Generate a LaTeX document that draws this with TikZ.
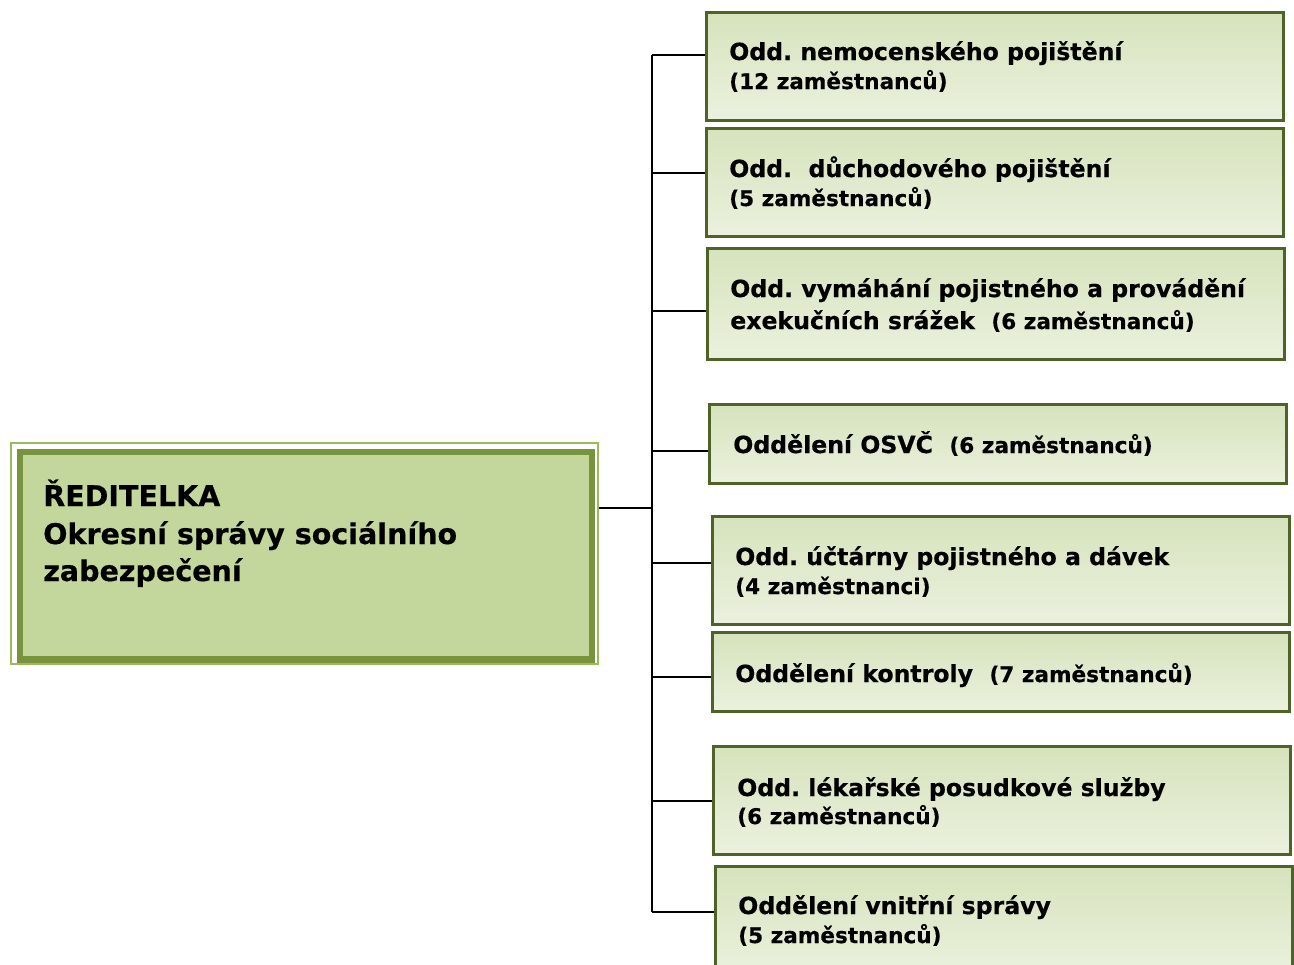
\documentclass[tikz,border=0pt]{standalone}
\usepackage{fontspec}
\setmainfont{DejaVu Sans}[BoldFeatures={FakeBold=0.5}]
\frenchspacing
\definecolor{topc}{HTML}{D6E3BC}
\definecolor{botc}{HTML}{EBF1DE}
\definecolor{bord}{HTML}{4F6228}
\definecolor{lfill}{HTML}{C3D69B}
\definecolor{lborder}{HTML}{77933C}
\definecolor{outerc}{HTML}{9BBB59}
\newcommand{\mainf}{\fontsize{17.7pt}{22pt}\selectfont\bfseries}
\newcommand{\subf}{\fontsize{16.2pt}{20pt}\selectfont\bfseries}
\newcommand{\bigf}{\fontsize{21.4pt}{26pt}\selectfont\bfseries}
\begin{document}
\begin{tikzpicture}[x=0.75pt,y=-0.75pt,
  dept/.style={draw=bord, line width=1.9pt, top color=topc, bottom color=botc,
    rectangle, inner sep=0pt, anchor=north west, minimum width=432.75pt},
  tall/.style={minimum height=81pt},
  short/.style={minimum height=59.25pt},
  lbl/.style={inner sep=0pt, anchor=base west, font=\mainf},
  conn/.style={draw=black, line width=1.4pt}]
\useasboundingbox (0,0) rectangle (1294,964);

% director box
\node[draw=outerc, line width=1.6pt, rectangle, inner sep=0pt, anchor=north west,
  minimum width=440.25pt, minimum height=165.75pt] (outer) at (10,441.5) {};
\node[draw=lborder, fill=lfill, line width=5pt, rectangle, inner sep=0pt, anchor=north west,
  minimum width=429pt, minimum height=155.6pt] (dir) at (16.5,448.5) {};
\node[inner sep=0pt, anchor=base west, font=\bigf] (d1) at (43,506) {ŘEDITELKA};
\node[inner sep=0pt, anchor=base west, font=\bigf] (d2) at (43,544) {Okresní správy sociálního};
\node[inner sep=0pt, anchor=base west, font=\bigf] (d3) at (43,581) {zabezpečení};

% department boxes
\node[dept, tall] (b1) at (705,11) {};
\node[dept, tall] (b2) at (705,127) {};
\node[dept, minimum height=83.25pt] (b3) at (706,247) {};
\node[dept, short] (b4) at (708,403) {};
\node[dept, tall] (b5) at (711,515) {};
\node[dept, short] (b6) at (711,631) {};
\node[dept, tall] (b7) at (712,745) {};
\node[dept, tall] (b8) at (714,865) {};

% labels
\node[lbl] (t1a) at (729,60) {Odd. nemocenského pojištění};
\node[lbl] (t1b) at (729,89) {\subf (12 zaměstnanců)};
\node[lbl] (t2a) at (729,177) {Odd.\ \ důchodového pojištění};
\node[lbl] (t2b) at (729,206) {\subf (5 zaměstnanců)};
\node[lbl] (t3a) at (730,297) {Odd. vymáhání pojistného a provádění};
\node[lbl] (t3b) at (730,329) {exekučních srážek\ \ {\subf (6 zaměstnanců)}};
\node[lbl] (t4a) at (733,453) {Oddělení OSVČ\ \ {\subf (6 zaměstnanců)}};
\node[lbl] (t5a) at (735,565) {Odd. účtárny pojistného a dávek};
\node[lbl] (t5b) at (735,594) {\subf (4 zaměstnanci)};
\node[lbl] (t6a) at (735,682) {Oddělení kontroly\ \ {\subf (7 zaměstnanců)}};
\node[lbl] (t7a) at (737,796) {Odd. lékařské posudkové služby};
\node[lbl] (t7b) at (737,824) {\subf (6 zaměstnanců)};
\node[lbl] (t8a) at (738,914) {Oddělení vnitřní správy};
\node[lbl] (t8b) at (738,943) {\subf (5 zaměstnanců)};

% connectors
\coordinate (j) at (652,508);
\coordinate (s1) at (652,55);
\coordinate (s2) at (652,173);
\coordinate (s3) at (652,311);
\coordinate (s4) at (652,451);
\coordinate (s5) at (652,563);
\coordinate (s6) at (652,677);
\coordinate (s7) at (652,801);
\coordinate (s8) at (652,912);
\draw[conn] (j -| outer.east) -- (j);
\draw[conn] (s1) -- (s8);
\draw[conn] (s1) -- (s1 -| b1.west);
\draw[conn] (s2) -- (s2 -| b2.west);
\draw[conn] (s3) -- (s3 -| b3.west);
\draw[conn] (s4) -- (s4 -| b4.west);
\draw[conn] (s5) -- (s5 -| b5.west);
\draw[conn] (s6) -- (s6 -| b6.west);
\draw[conn] (s7) -- (s7 -| b7.west);
\draw[conn] (s8) -- (s8 -| b8.west);
\end{tikzpicture}
\end{document}
